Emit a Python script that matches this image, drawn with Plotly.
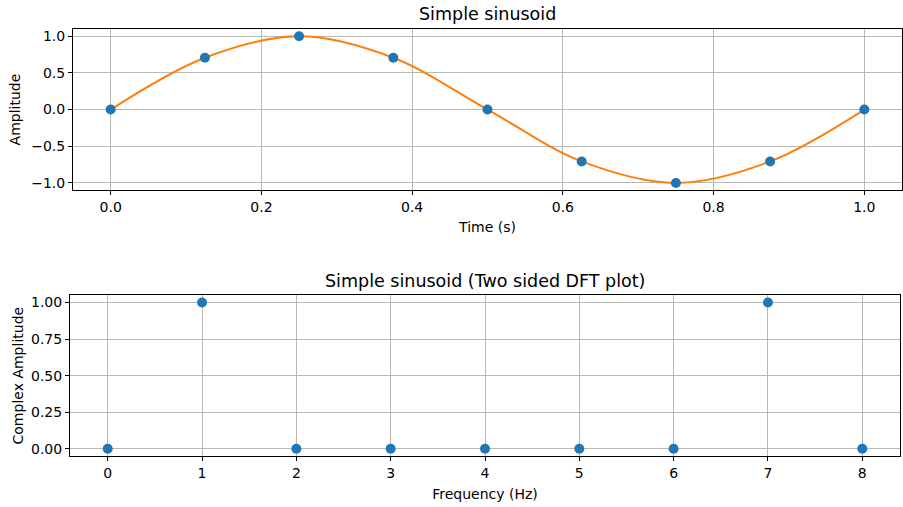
import plotly.graph_objects as go

# Data
t_samples = [0.0, 0.125, 0.25, 0.375, 0.5, 0.625, 0.75, 0.875, 1.0]
x_samples = [0.0, 0.707, 1.0, 0.707, 0.0, -0.707, -1.0, -0.707, 0.0]
freq_bins = [0, 1, 2, 3, 4, 5, 6, 7, 8]
dft_amp = [0.0, 1.0, 0.0, 0.0, 0.0, 0.0, 0.0, 1.0, 0.0]

top_yticks = [-1.0, -0.5, 0.0, 0.5, 1.0]
top_xticks = [0.0, 0.2, 0.4, 0.6, 0.8, 1.0]
bot_yticks = [0.0, 0.25, 0.5, 0.75, 1.0]

BLUE = "#1f77b4"
ORANGE = "#ff7f0e"
FONT = "DejaVu Sans"
W, H = 903, 507
TICK = 14
LAB = 14
TTL = 17.5

fig = go.Figure()

fig.add_trace(go.Scatter(x=t_samples, y=x_samples, mode="lines",
                         line=dict(color=ORANGE, width=2, shape="spline", smoothing=1.0),
                         xaxis="x", yaxis="y", showlegend=False))
fig.add_trace(go.Scatter(x=t_samples, y=x_samples, mode="markers",
                         marker=dict(color=BLUE, size=10),
                         xaxis="x", yaxis="y", showlegend=False))
fig.add_trace(go.Scatter(x=freq_bins, y=dft_amp, mode="markers",
                         marker=dict(color=BLUE, size=10),
                         xaxis="x2", yaxis="y2", showlegend=False))

axis_common = dict(showline=True, linecolor="black", linewidth=1, mirror=True,
                   ticks="outside", ticklen=4, tickcolor="black",
                   showgrid=True, gridcolor="#b8b8b8", gridwidth=1.3, zeroline=False,
                   tickfont=dict(family=FONT, size=TICK, color="black"))

fig.update_layout(
    width=W, height=H, margin=dict(l=0, r=0, t=0, b=0),
    plot_bgcolor="white", paper_bgcolor="white",
    font=dict(family=FONT, color="black"),
    xaxis=dict(domain=[73/W, 902/W], anchor="y", range=[-0.05, 1.05],
               tickvals=top_xticks, tickformat=".1f",
               title=dict(text="Time (s)", font=dict(family=FONT, size=LAB), standoff=8),
               **axis_common),
    yaxis=dict(domain=[1-190/H, 1-28/H], anchor="x", range=[-1.1, 1.1],
               tickvals=top_yticks, tickformat=".1f",
               title=dict(text="Amplitude", font=dict(family=FONT, size=LAB), standoff=7),
               **axis_common),
    xaxis2=dict(domain=[70/W, 900/W], anchor="y2", range=[-0.4, 8.4],
                tickvals=freq_bins, tickformat="d",
                title=dict(text="Frequency (Hz)", font=dict(family=FONT, size=LAB), standoff=8),
                **axis_common),
    yaxis2=dict(domain=[1-457.3/H, 1-295/H], anchor="x2", range=[-0.053, 1.053],
                tickvals=bot_yticks, tickformat=".2f",
                title=dict(text="Complex Amplitude", font=dict(family=FONT, size=LAB), standoff=4),
                **axis_common),
    annotations=[
        dict(text="Simple sinusoid", x=(73+902)/2/W, y=1-13/H, xref="paper", yref="paper",
             showarrow=False, font=dict(family=FONT, size=TTL), xanchor="center", yanchor="middle"),
        dict(text="Simple sinusoid (Two sided DFT plot)", x=(70+900)/2/W, y=1-281/H,
             xref="paper", yref="paper", showarrow=False, font=dict(family=FONT, size=TTL),
             xanchor="center", yanchor="middle"),
    ],
)

fig.write_html("out.html")
